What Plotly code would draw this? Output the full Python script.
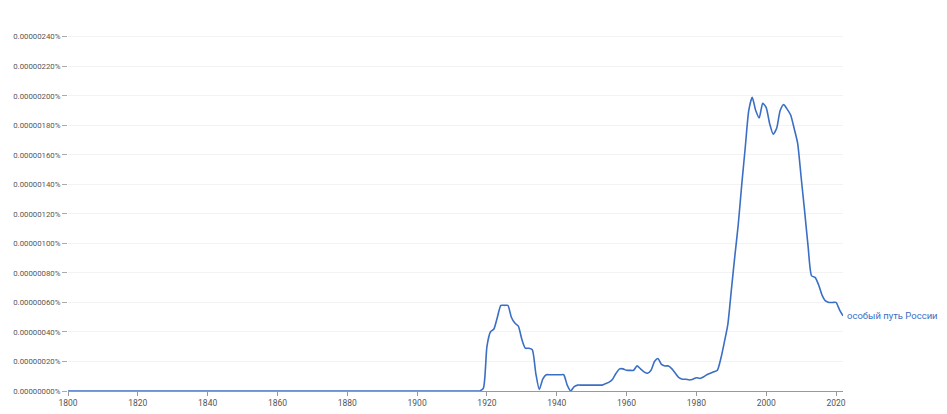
import plotly.graph_objects as go

# values in units of 0.00000001 %
flat_years = [1800, 1918]
flat_values = [0, 0]
years = list(range(1918, 2023))
values = [
    0,                                          # 1918
    2, 30, 40, 42, 50, 58, 58, 58, 50, 46,      # 1919-1928
    44, 35, 29, 29, 28, 12, 1, 8, 11, 11,       # 1929-1938
    11, 11, 11, 11, 4, 0, 3, 4, 4, 4,           # 1939-1948
    4, 4, 4, 4, 4, 5, 6, 8, 12, 15,             # 1949-1958
    15, 14, 14, 14, 17, 15, 13, 12, 14, 20,     # 1959-1968
    22, 18, 17, 17, 15, 12, 9, 8, 8, 7.5,       # 1969-1978
    8, 9, 8.5, 9.5, 11, 12, 13, 14, 22, 33,     # 1979-1988
    45, 68, 91, 113, 140, 165, 190, 199, 190, 185,  # 1989-1998
    195, 192, 181, 174, 178, 190, 194, 191, 187, 178,  # 1999-2008
    168, 145, 122, 98, 78, 77, 72, 65, 61, 60,  # 2009-2018
    60, 60, 55, 51,                             # 2019-2022
]

series_name = "особый путь России"
y_tick_vals = [0, 20, 40, 60, 80, 100, 120, 140, 160, 180, 200, 220, 240]
y_tick_text = ["0.00000000%", "0.00000020%", "0.00000040%", "0.00000060%",
               "0.00000080%", "0.00000100%", "0.00000120%", "0.00000140%",
               "0.00000160%", "0.00000180%", "0.00000200%", "0.00000220%",
               "0.00000240%"]
x_tick_vals = [1800, 1820, 1840, 1860, 1880, 1900, 1920, 1940, 1960, 1980, 2000, 2020]

blue = "#3a6fc4"
fig = go.Figure()
fig.add_trace(go.Scatter(
    x=flat_years, y=flat_values, mode="lines", name=series_name,
    line=dict(color=blue, width=1.6), showlegend=False, cliponaxis=False,
))
fig.add_trace(go.Scatter(
    x=years, y=values, mode="lines", name=series_name,
    line=dict(color=blue, width=1.6, shape="spline", smoothing=0.6),
    showlegend=False, cliponaxis=False,
))
fig.add_annotation(x=years[-1], y=values[-1], text=series_name, showarrow=False,
                   xanchor="left", yanchor="middle", xshift=2,
                   font=dict(color=blue, size=9.5, family="Roboto, Arial, sans-serif"))

# page has an 8px body margin, so the figure is 8px smaller each way
W, H = 939, 406
L, R, T, B = 60, 104, 14, 23
pw, ph = W - L - R, H - T - B
def px(x): return (x - L) / pw
def py(y): return (H - B - y) / ph
fig.add_shape(type="line", xref="paper", yref="paper", x0=px(937), x1=px(937), y0=py(0), y1=py(H),
              line=dict(color="#e6e6e6", width=1))

fig.update_layout(
    width=W, height=H,
    margin=dict(l=L, r=R, t=T, b=B, autoexpand=False),
    plot_bgcolor="white", paper_bgcolor="white",
    font=dict(family="Roboto, Arial, sans-serif", size=8.5, color="#555"),
    xaxis=dict(range=[1800, 2022], tickvals=x_tick_vals, showgrid=False, zeroline=False,
               showline=True, linecolor="#999", linewidth=1, ticks="outside", ticklen=4,
               tickcolor="#999", tickfont=dict(size=8.5, color="#555"), automargin=False),
    yaxis=dict(range=[0, 250], tickvals=y_tick_vals, ticktext=y_tick_text, showgrid=True,
               gridcolor="#f3f3f3", zeroline=False, showline=False, ticks="outside",
               ticklen=5, tickcolor="#aaa", tickfont=dict(size=7.8, color="#555"),
               automargin=False),
)
fig.write_html("out.html")
